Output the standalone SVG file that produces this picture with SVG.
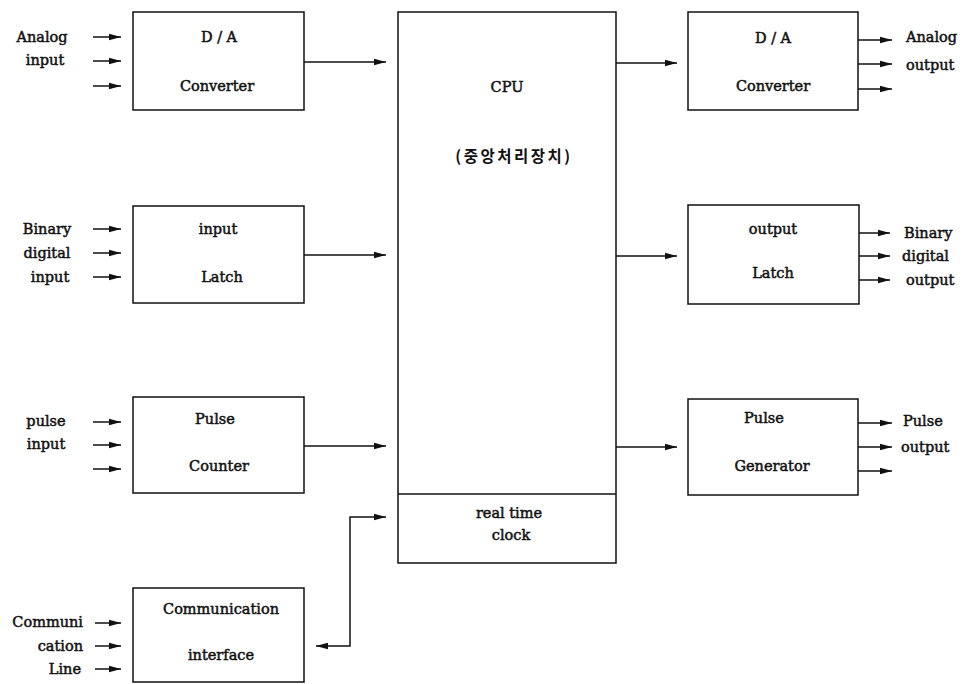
<svg xmlns="http://www.w3.org/2000/svg" width="963" height="684" viewBox="0 0 963 684">
<style>
.box{fill:#fff;stroke:#111;stroke-width:1.5}
.t{font-family:"DejaVu Serif","Liberation Serif",serif;font-size:14.5px;fill:#111;stroke:#111;stroke-width:0.5;text-anchor:middle;dominant-baseline:central}
.l{text-anchor:start}
.r{text-anchor:end}
.k{font-family:"Noto Sans CJK KR",sans-serif;font-weight:bold;font-size:15.5px;letter-spacing:2.5px;stroke:none}
.c{fill:none;stroke:#111;stroke-width:1.5}
</style>
<defs>
<marker id="ah" markerUnits="userSpaceOnUse" markerWidth="12" markerHeight="8" viewBox="0 0 12 8" refX="12" refY="4" orient="auto-start-reverse">
<path d="M0,0.8 L12,4 L0,7.2 Z" fill="#111"/>
</marker>
</defs>

<g id="connectors">
<g marker-end="url(#ah)" class="c">
<line x1="93" y1="37" x2="121" y2="37"/>
<line x1="93" y1="61" x2="121" y2="61"/>
<line x1="93" y1="86" x2="121" y2="86"/>
<line x1="93" y1="229" x2="121" y2="229"/>
<line x1="93" y1="253" x2="121" y2="253"/>
<line x1="93" y1="277" x2="121" y2="277"/>
<line x1="93" y1="422" x2="121" y2="422"/>
<line x1="93" y1="445" x2="121" y2="445"/>
<line x1="93" y1="469" x2="121" y2="469"/>
<line x1="95" y1="623" x2="121" y2="623"/>
<line x1="95" y1="646" x2="121" y2="646"/>
<line x1="95" y1="669" x2="121" y2="669"/>
<line x1="304" y1="62" x2="386" y2="62"/>
<line x1="304" y1="255" x2="386" y2="255"/>
<line x1="304" y1="446" x2="386" y2="446"/>
<line x1="616" y1="63" x2="677" y2="63"/>
<line x1="616" y1="256" x2="677" y2="256"/>
<line x1="616" y1="447" x2="677" y2="447"/>
<line x1="858" y1="40" x2="892" y2="40"/>
<line x1="858" y1="64" x2="892" y2="64"/>
<line x1="858" y1="89" x2="892" y2="89"/>
<line x1="858" y1="233" x2="890" y2="233"/>
<line x1="858" y1="256" x2="890" y2="256"/>
<line x1="858" y1="280" x2="890" y2="280"/>
<line x1="858" y1="423" x2="892" y2="423"/>
<line x1="858" y1="447" x2="892" y2="447"/>
<line x1="858" y1="471" x2="892" y2="471"/>
</g>
<path class="c" d="M316,646 H350 V517 H386" marker-start="url(#ah)" marker-end="url(#ah)"/>
</g>

<g id="labels-left">
<text class="t" x="42" y="37">Analog</text>
<text class="t" x="45" y="60">input</text>
<text class="t" x="47" y="229">Binary</text>
<text class="t" x="47" y="253">digital</text>
<text class="t" x="50" y="277">input</text>
<text class="t" x="46" y="421">pulse</text>
<text class="t" x="46" y="444">input</text>
<text class="t r" x="83" y="622">Communi</text>
<text class="t r" x="83" y="646">cation</text>
<text class="t r" x="81" y="669">Line</text>
</g>

<g id="labels-right">
<text class="t l" x="906" y="37">Analog</text>
<text class="t l" x="906" y="65">output</text>
<text class="t l" x="904" y="233">Binary</text>
<text class="t l" x="902" y="256">digital</text>
<text class="t l" x="906" y="280">output</text>
<text class="t l" x="903" y="421">Pulse</text>
<text class="t l" x="901" y="447">output</text>
</g>

<g id="node-da-in">
<rect class="box" x="133" y="12" width="171" height="98"/>
<text class="t" x="219" y="37">D / A</text>
<text class="t" x="217" y="86">Converter</text>
</g>
<g id="node-input-latch">
<rect class="box" x="133" y="206" width="171" height="97"/>
<text class="t" x="218" y="229">input</text>
<text class="t" x="222" y="277">Latch</text>
</g>
<g id="node-pulse-counter">
<rect class="box" x="133" y="397" width="171" height="96"/>
<text class="t" x="215" y="419">Pulse</text>
<text class="t" x="219" y="466">Counter</text>
</g>
<g id="node-comm">
<rect class="box" x="133" y="588" width="171" height="94"/>
<text class="t" x="221" y="609">Communication</text>
<text class="t" x="221" y="655">interface</text>
</g>

<g id="node-cpu">
<rect class="box" x="398" y="12" width="218" height="551"/>
<line x1="398" y1="494" x2="616" y2="494" stroke="#111" stroke-width="1.5"/>
<text class="t" x="507" y="87">CPU</text>
<text class="t k" x="514" y="155">(중앙처리장치)</text>
<text class="t" x="509" y="513">real time</text>
<text class="t" x="511" y="535">clock</text>
</g>

<g id="node-da-out">
<rect class="box" x="688" y="12" width="170" height="98"/>
<text class="t" x="773" y="38">D / A</text>
<text class="t" x="773" y="86">Converter</text>
</g>
<g id="node-output-latch">
<rect class="box" x="688" y="205" width="171" height="99"/>
<text class="t" x="773" y="229">output</text>
<text class="t" x="773" y="273">Latch</text>
</g>
<g id="node-pulse-gen">
<rect class="box" x="688" y="399" width="170" height="96"/>
<text class="t" x="764" y="418">Pulse</text>
<text class="t" x="772" y="466">Generator</text>
</g>
</svg>
